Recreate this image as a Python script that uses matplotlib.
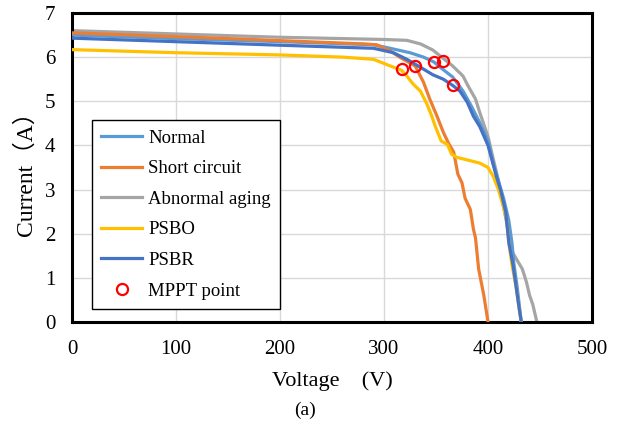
import matplotlib
matplotlib.use("Agg")
import matplotlib.pyplot as plt

plt.rcParams['font.family'] = ['Liberation Serif', 'Noto Sans CJK SC', 'DejaVu Sans']

# ---- data (Voltage V, Current A) ----
normal_v = [0, 100, 200, 290, 306, 325, 338, 348, 354, 366, 376, 384, 392, 400, 405, 410, 415, 420, 423, 425, 428, 430, 432]
normal_i = [6.50, 6.42, 6.35, 6.28, 6.20, 6.10, 6.00, 5.89, 5.77, 5.55, 5.23, 4.89, 4.52, 4.10, 3.60, 3.20, 2.80, 2.30, 1.80, 1.30, 0.80, 0.40, 0.0]

short_v = [0, 150, 280, 293, 306, 315, 330, 338, 344, 351, 357, 362, 367, 371, 375, 378, 383, 386, 388, 391, 396, 400]
short_i = [6.55, 6.42, 6.30, 6.28, 6.14, 6.00, 5.80, 5.43, 5.05, 4.66, 4.30, 4.05, 3.85, 3.35, 3.15, 2.80, 2.55, 2.10, 1.90, 1.20, 0.60, 0.0]

aging_v = [0, 200, 300, 322, 335, 347, 357, 366, 376, 381, 388, 392, 400, 405, 410, 415, 420, 423, 428, 433, 437, 440, 443, 447]
aging_i = [6.60, 6.45, 6.40, 6.38, 6.30, 6.16, 5.97, 5.80, 5.57, 5.34, 5.05, 4.75, 4.20, 3.70, 3.20, 2.60, 2.00, 1.60, 1.40, 1.20, 0.90, 0.60, 0.40, 0.0]

psbo_v = [0, 100, 200, 260, 290, 306, 317, 322, 328, 335, 341, 346, 349, 355, 361, 365, 370, 392, 400, 405, 410, 415, 418, 420, 423, 427, 430, 432]
psbo_i = [6.17, 6.10, 6.05, 6.00, 5.95, 5.80, 5.70, 5.57, 5.39, 5.23, 4.95, 4.66, 4.45, 4.10, 4.02, 3.80, 3.73, 3.60, 3.50, 3.30, 3.00, 2.60, 2.30, 1.80, 1.30, 0.80, 0.30, 0.0]

psbr_v = [0, 100, 200, 290, 309, 322, 335, 347, 357, 366, 373, 380, 386, 392, 400, 408, 412, 417, 420, 424, 427, 430, 432]
psbr_i = [6.43, 6.35, 6.27, 6.20, 6.10, 5.95, 5.77, 5.60, 5.50, 5.36, 5.23, 4.98, 4.66, 4.43, 4.00, 3.30, 3.00, 2.50, 1.80, 1.30, 0.80, 0.30, 0.0]

mppt_v = [317, 330, 348, 357, 366]
mppt_i = [5.74, 5.80, 5.89, 5.92, 5.36]

x_ticks = [0, 100, 200, 300, 400, 500]
y_ticks = [0, 1, 2, 3, 4, 5, 6, 7]

fig = plt.figure(figsize=(6.19, 4.30), dpi=100)
ax = fig.add_axes([0.1163, 0.2512, 0.8401, 0.7186])

lw = 2.3
ax.plot(normal_v, normal_i, color='#5B9BD5', lw=lw, label='Normal', zorder=3)
ax.plot(short_v, short_i, color='#ED7D31', lw=lw, label='Short circuit', zorder=3)
ax.plot(aging_v, aging_i, color='#A5A5A5', lw=lw, label='Abnormal aging', zorder=2)
ax.plot(psbo_v, psbo_i, color='#FFC000', lw=lw, label='PSBO', zorder=3)
ax.plot(psbr_v, psbr_i, color='#4472C4', lw=lw, label='PSBR', zorder=4)
ax.plot(mppt_v, mppt_i, linestyle='none', marker='o', markersize=8, markerfacecolor='none',
        markeredgecolor='#FF0000', markeredgewidth=1.6, label='MPPT point', zorder=5)

ax.set_xlim(0, 500)
ax.set_ylim(0, 7)
ax.set_xticks(x_ticks)
ax.set_yticks(y_ticks)
ax.grid(True, color='#D9D9D9', lw=1.0)
ax.set_axisbelow(True)
ax.tick_params(length=0, labelsize=15)
ax.tick_params(axis='x', pad=13)
ax.tick_params(axis='y', pad=12)
for s in ax.spines.values():
    s.set_linewidth(2.2)
    s.set_color('black')

ax.set_xlabel('Voltage\u3000(V)', fontsize=16, labelpad=9)
ax.set_ylabel('Current（A）', fontsize=17, labelpad=6)

leg = ax.legend(loc='lower left', bbox_to_anchor=(0.038, 0.042), fontsize=13.5,
                fancybox=False, edgecolor='black', framealpha=1, borderaxespad=0,
                handlelength=2.2, handletextpad=0.3, labelspacing=0.72, borderpad=0.5)
leg.get_frame().set_linewidth(1.0)

fig.text(0.493, 0.045, '(a)', ha='center', va='center', fontsize=14)

fig.savefig('out.png', dpi=100)
